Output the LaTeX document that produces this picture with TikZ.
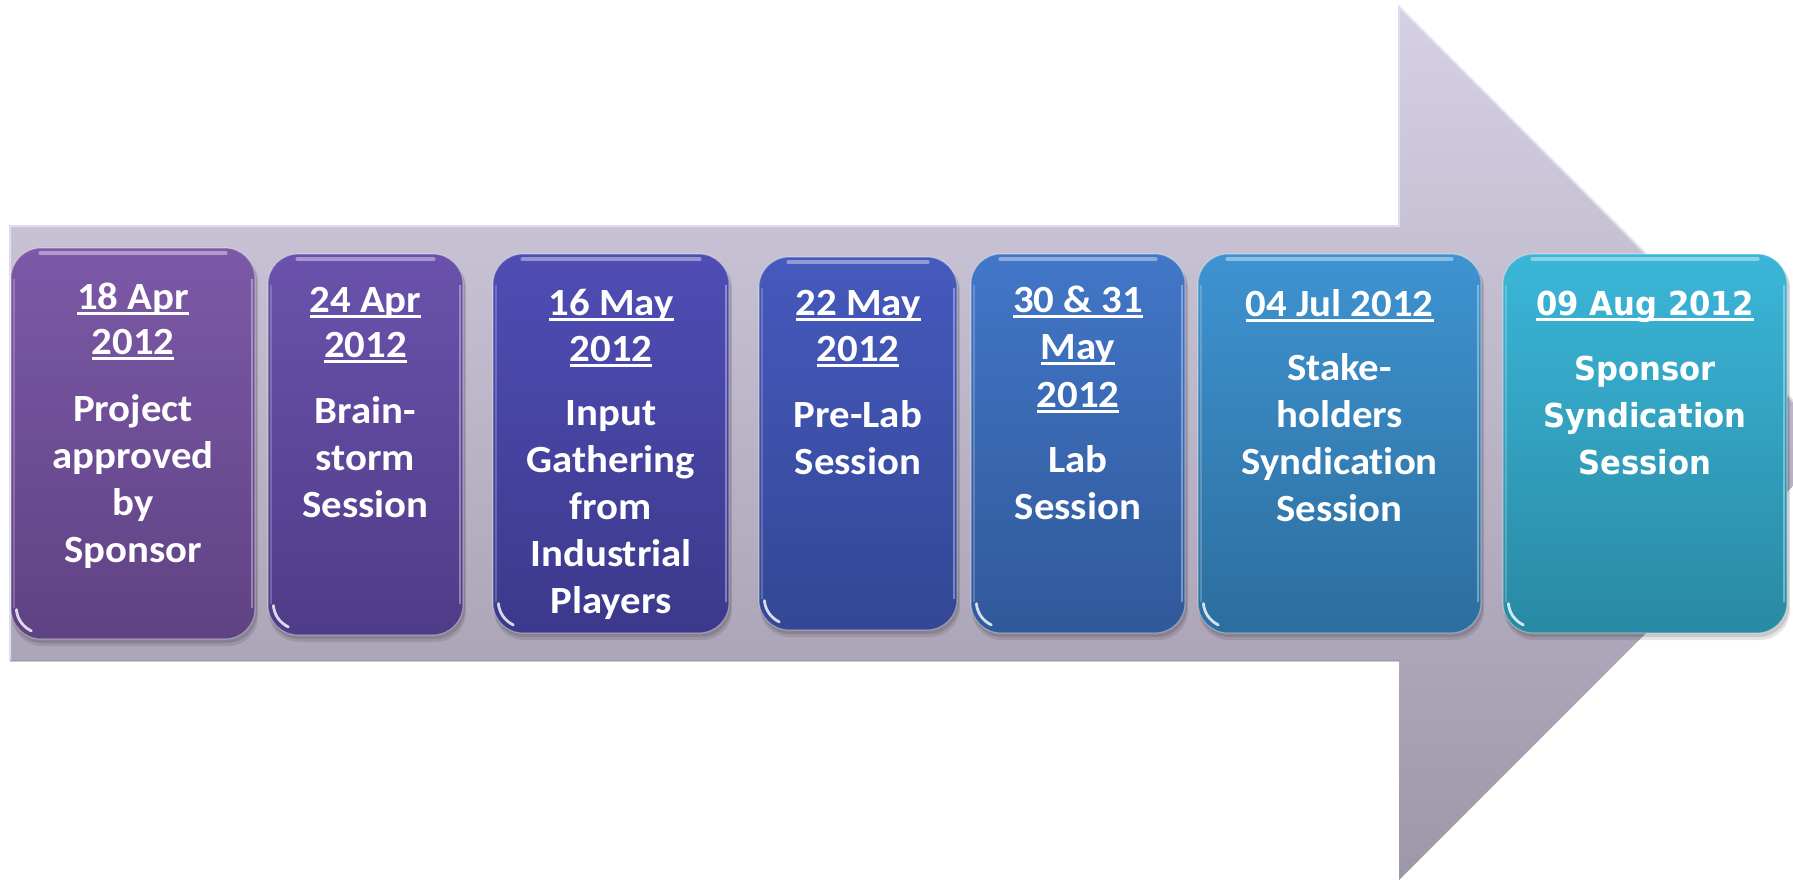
\documentclass[tikz,border=0pt]{standalone}
\usepackage{fontspec}
\newfontfamily\calfont{Carlito}[FakeStretch=1.06, Ligatures=CommonOff]
\newfontfamily\verfont{DejaVu Sans}[FakeStretch=0.93, Ligatures=CommonOff]
\definecolor{arrtop}{RGB}{214,208,228}
\definecolor{arrbot}{RGB}{158,151,168}
\definecolor{arredge}{RGB}{226,221,236}
\definecolor{c1t}{HTML}{7C59A7}\definecolor{c1b}{HTML}{5F4283}
\definecolor{c2t}{HTML}{6A52AC}\definecolor{c2b}{HTML}{4F3C88}
\definecolor{c3t}{HTML}{4F4DB4}\definecolor{c3b}{HTML}{3C398C}
\definecolor{c4t}{HTML}{4659BD}\definecolor{c4b}{HTML}{334795}
\definecolor{c5t}{HTML}{4276C7}\definecolor{c5b}{HTML}{30599A}
\definecolor{c6t}{HTML}{3E93D1}\definecolor{c6b}{HTML}{2C6E9E}
\definecolor{c7t}{HTML}{3BB6D8}\definecolor{c7b}{HTML}{2989A3}
\tikzset{
  tlbox/.style={rounded corners=30pt, draw=white, draw opacity=0.35, line width=1.2pt, inner sep=0pt},
  txt/.style={text=white, inner sep=0pt, outer sep=0pt, anchor=base},
  gloss/.style={white, line cap=round},
}
\newcommand\udl[1]{\leavevmode\setbox0\hbox{#1}\rlap{\rule[-5.5pt]{\wd0}{2.7pt}}\box0}
\newcommand\calines[2]{\vtop{\hsize=300pt\parindent=0pt\parskip=0pt\centering\calfont\bfseries\fontsize{38.5}{#1}\selectfont #2\par}}
\newcommand\verlines[2]{\vtop{\hsize=300pt\parindent=0pt\parskip=0pt\centering\verfont\bfseries\fontsize{33}{#1}\selectfont #2\par}}
\newcommand\tlbox[7]{%
  \fill[black, opacity=.10, rounded corners=30pt] (#2+1,#3+4) rectangle (#4+3,#5+7);
  \fill[black, opacity=.12, rounded corners=30pt] (#2+1,#3+3) rectangle (#4+2,#5+4);
  \node[tlbox, top color=#6, bottom color=#7, minimum width={(#4-#2)*1pt}, minimum height={(#5-#3)*1pt}] (#1) at ({(#2+#4)/2},{(#3+#5)/2}) {};
  \draw[gloss, opacity=.4, line width=4pt] ([xshift=30pt,yshift=-6pt]#1.north west) -- ([xshift=-30pt,yshift=-6pt]#1.north east);
  \draw[gloss, opacity=.35, line width=1.5pt] ([xshift=-3.5pt,yshift=-32pt]#1.north east) -- ([xshift=-3.5pt,yshift=32pt]#1.south east);
  \draw[gloss, opacity=.2, line width=1.5pt] ([xshift=3.5pt,yshift=-32pt]#1.north west) -- ([xshift=3.5pt,yshift=32pt]#1.south west);
  \draw[gloss, opacity=.8, line width=2.8pt] ([xshift=6pt,yshift=30pt]#1.south west) arc[start angle=185, end angle=245, radius=26pt];
}
\begin{document}
\begin{tikzpicture}[x=1pt, y=-1pt]
\useasboundingbox (0,0) rectangle (1793,880);
\clip (0,0) rectangle (1793,880);
% big arrow
\path[top color=arrtop, bottom color=arrbot]
  (10,226) -- (1399,226) -- (1399,7) -- (1835.5,443.5) -- (1399,880) -- (1399,661) -- (10,661) -- cycle;
\draw[arredge, line width=2pt, line join=miter]
  (10,661) -- (10,226) -- (1399,226) -- (1399,7) -- (1835.5,443.5);
\draw[arrbot!85!black, opacity=.35, line width=1.5pt]
  (10,661) -- (1399,661);
% boxes
\tlbox{n1}{11}{248}{255}{639}{c1t}{c1b}
\tlbox{n2}{268}{254}{463}{635}{c2t}{c2b}
\tlbox{n3}{493}{254}{729}{633}{c3t}{c3b}
\tlbox{n4}{759}{257}{957}{630}{c4t}{c4b}
\tlbox{n5}{971}{254}{1185}{633}{c5t}{c5b}
\tlbox{n6}{1198}{254}{1481}{633}{c6t}{c6b}
\tlbox{n7}{1503}{254}{1787}{633}{c7t}{c7b}
% texts
\node[txt] (d1) at (133,309) {\calines{45}{\udl{18 Apr}\\\udl{2012}}};
\node[txt] (b1) at (133,421) {\calines{47}{Project\\approved\\by\\Sponsor}};
\node[txt] (d2) at (365.5,312) {\calines{45}{\udl{24 Apr}\\\udl{2012}}};
\node[txt] (b2) at (365.5,423) {\calines{47}{Brain-\\storm\\Session}};
\node[txt] (d3) at (611,315) {\calines{46}{\udl{16 May}\\\udl{2012}}};
\node[txt] (b3) at (611,425) {\calines{47}{Input\\Gathering\\from\\Industrial\\Players}};
\node[txt] (d4) at (858,315) {\calines{46}{\udl{22 May}\\\udl{2012}}};
\node[txt] (b4) at (858,427) {\calines{47}{Pre-Lab\\Session}};
\node[txt] (d5) at (1078,312) {\calines{47.5}{\udl{30 \& 31}\\\udl{May}\\\udl{2012}}};
\node[txt] (b5) at (1078,472) {\calines{47}{Lab\\Session}};
\node[txt] (d6) at (1339.5,316) {\calines{46}{\udl{04 Jul 2012}}};
\node[txt] (b6) at (1339.5,380) {\calines{47}{Stake-\\holders\\Syndication\\Session}};
\node[txt] (d7) at (1645,315) {\verlines{47}{\udl{09 Aug 2012}}};
\node[txt] (b7) at (1645,380) {\verlines{47}{Sponsor\\Syndication\\Session}};
\end{tikzpicture}
\end{document}
